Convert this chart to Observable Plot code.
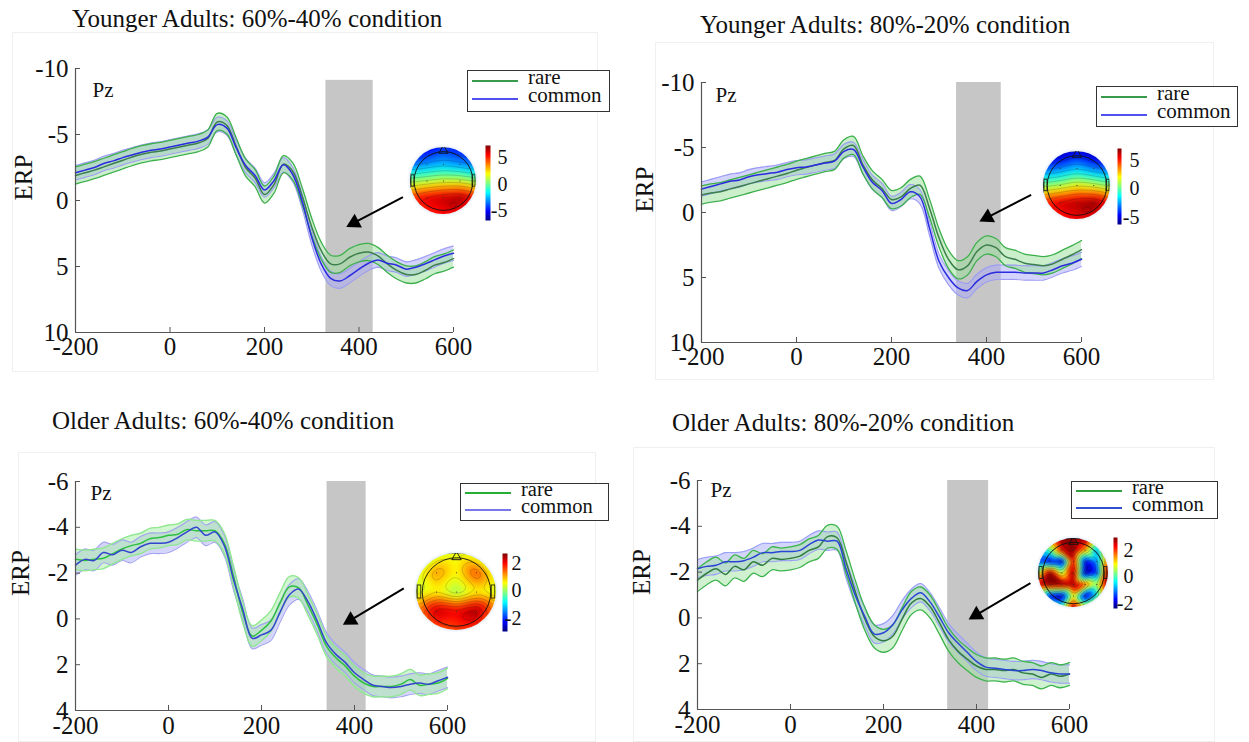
<!DOCTYPE html>
<html><head><meta charset="utf-8">
<script src="https://cdn.jsdelivr.net/npm/d3@7"></script>
<script src="https://cdn.jsdelivr.net/npm/@observablehq/plot@0.6"></script>
<style>
body{margin:0;background:#fff;}
#root{position:relative;width:1249px;height:742px;overflow:hidden;background:#fff;font-family:"Liberation Serif","Times New Roman",serif;color:#111;}
.title{position:absolute;font-size:25px;line-height:1;white-space:nowrap;}
.pframe{position:absolute;border:1px solid #f0f0f0;box-sizing:border-box;}
.legend{position:absolute;border:1.5px solid #333;background:#fff;box-sizing:border-box;}
.legend .ln{position:absolute;height:2px;}
.legend .tx{position:absolute;line-height:1;white-space:nowrap;}
.topo{position:absolute;border-radius:50%;overflow:hidden;box-shadow:0 0 3px 1px #dde8f6;}
</style></head>
<body><div id="root"></div>
<script>
// ---------------- data ----------------
const times = [-200,-180,-160,-140,-120,-100,-80,-60,-40,-20,0,20,40,60,80,100,120,140,160,180,200,220,240,260,280,300,320,340,360,380,400,420,440,460,480,500,520,540,560,580,600];
const xTicks = [-200, 0, 200, 400, 600];
const yTicksYoung = [-10, -5, 0, 5, 10];
const yTicksOld = [-6, -4, -2, 0, 2, 4];
const titles = ["Younger Adults: 60%-40% condition", "Younger Adults: 80%-20% condition", "Older Adults: 60%-40% condition", "Older Adults: 80%-20% condition"];
const seriesNames = ["rare", "common"];
const channelName = "Pz";
const yLabel = "ERP";

// Younger adults, 60%-40%
const ya6040Rare   = [-1.9,-2.1,-2.3,-2.55,-2.8,-3.05,-3.3,-3.5,-3.65,-3.75,-3.9,-4.05,-4.2,-4.35,-4.7,-5.95,-5.7,-4.1,-2.5,-1.7,-0.45,-1.2,-2.75,-2.2,-0.3,2.0,3.8,4.8,4.8,4.3,4.0,3.9,4.2,4.8,5.3,5.6,5.6,5.3,4.9,4.7,4.4];
const ya6040Common = [-2.1,-2.3,-2.5,-2.8,-3.0,-3.25,-3.45,-3.65,-3.8,-3.9,-4.05,-4.2,-4.35,-4.5,-4.8,-5.75,-5.5,-4.0,-2.65,-1.9,-0.8,-1.5,-2.7,-1.95,0.1,2.8,4.8,5.9,6.1,5.7,5.2,4.75,4.5,4.75,4.9,5.2,5.05,4.8,4.5,4.2,4.0];
const ya6040HalfCI = [0.65, 0.55];
const ya6040Window = [330, 430];
const ya6040Arrow = {x1: 493, y1: -0.25, x2: 373, y2: 2.0};

// Younger adults, 80%-20%
const ya8020Rare   = [-1.35,-1.5,-1.6,-1.8,-2.0,-2.2,-2.4,-2.6,-2.8,-3.0,-3.25,-3.45,-3.65,-3.85,-4.0,-4.9,-5.15,-3.65,-2.5,-1.85,-1.0,-1.2,-1.85,-2.1,-0.33,1.95,3.6,4.4,4.1,3.0,2.5,2.7,3.4,3.6,3.9,4.0,4.1,3.95,3.6,3.25,2.85];
const ya8020Common = [-1.8,-2.0,-2.2,-2.4,-2.5,-2.75,-2.9,-3.0,-3.1,-3.3,-3.45,-3.5,-3.65,-3.8,-3.95,-4.7,-4.85,-3.5,-2.3,-1.7,-0.7,-1.0,-1.6,-1.2,1.2,3.75,5.0,5.8,6.0,5.3,4.8,4.6,4.6,4.6,4.65,4.65,4.65,4.4,4.1,3.9,3.6];
const ya8020HalfCI = [0.7, 0.55];
const ya8020Window = [337, 431];
const ya8020Arrow = {x1: 494, y1: -1.35, x2: 385, y2: 0.7};

// Older adults, 60%-40%
const oa6040Rare   = [-2.6,-2.55,-2.6,-2.65,-2.85,-3.05,-3.2,-3.3,-3.5,-3.55,-3.65,-3.7,-3.9,-3.85,-3.85,-3.85,-3.3,-1.85,-0.25,0.75,0.5,0.1,-0.7,-1.4,-1.35,-0.6,0.25,1.2,1.7,2.05,2.5,2.8,2.95,2.95,2.95,2.85,2.65,2.9,2.85,2.8,2.6];
const oa6040Common = [-2.35,-2.6,-2.55,-2.9,-2.8,-3.0,-2.9,-3.15,-3.3,-3.3,-3.35,-3.55,-3.8,-4.0,-3.65,-3.8,-3.2,-1.7,-0.4,0.85,0.7,0.5,-0.3,-1.05,-1.3,-0.75,0.1,1.05,1.55,1.9,2.35,2.65,2.9,2.95,3.0,2.95,2.85,2.8,2.85,2.7,2.55];
const oa6040HalfCI = [0.45, 0.45];
const oa6040Window = [341, 425];
const oa6040Arrow = {x1: 506, y1: -1.33, x2: 375, y2: 0.26};

// Older adults, 80%-20%
const oa8020Rare   = [-1.65,-1.95,-2.15,-1.9,-2.25,-2.1,-2.45,-2.3,-2.6,-2.55,-2.6,-2.7,-2.95,-3.1,-3.55,-3.5,-2.4,-1.1,0.05,0.8,1.0,0.8,0.05,-0.65,-0.85,-0.5,0.2,0.95,1.45,1.8,2.1,2.25,2.25,2.3,2.25,2.4,2.45,2.6,2.45,2.55,2.45];
const oa8020Common = [-2.15,-2.25,-2.3,-2.45,-2.45,-2.5,-2.65,-2.85,-2.85,-2.9,-2.9,-2.95,-3.2,-3.4,-3.35,-3.35,-2.1,-0.95,-0.05,0.7,0.65,0.3,-0.35,-0.85,-1.1,-0.7,-0.05,0.65,1.1,1.5,1.9,2.15,2.2,2.25,2.3,2.3,2.25,2.3,2.4,2.45,2.45];
const oa8020HalfCI = [0.5, 0.4];
const oa8020Window = [338, 426];
const oa8020Arrow = {x1: 516, y1: -1.52, x2: 383, y2: 0.07};

// Topographic maps (rows front -> back, columns left -> right)
const grid5 = [-1, -0.5, 0, 0.5, 1];
const grid5Rows = [1, 0.5, 0, -0.5, -1];
const grid7 = [-1, -0.667, -0.333, 0, 0.333, 0.667, 1];
const grid7Rows = [1, 0.667, 0.333, 0, -0.333, -0.667, -1];
const topoYa6040 = [
  [-6.5, -5.5, -4.5, -5, -6],
  [-3.5, -3, -2.5, -3, -3.5],
  [0.5, 1, 1.5, 1.5, 0.5],
  [5, 6, 6.5, 7, 5.5],
  [4, 5, 5.5, 5.5, 4.5]];
const topoYa8020 = [
  [-6.5, -6, -5, -6, -6.5],
  [-3.5, -3, -2, -3, -3.5],
  [0.5, 1, 2, 1.5, 0.5],
  [5, 6, 6.5, 7, 5.5],
  [4, 5, 5.5, 5.5, 4]];
const topoOa6040 = [
  [0, 0.3, 0.4, 0.3, 0],
  [0.4, 1.2, 0.6, 1.6, 0.4],
  [0.3, 0.6, 0, 0.6, 0.3],
  [1.2, 2.4, 2.1, 2.6, 1.2],
  [0.9, 1.5, 1.6, 1.6, 0.9]];
const topoOa8020 = [
  [2, 2.5, 3, 3, 3, 1, 2],
  [-1, 0, 2.5, 3, 1.5, -1, 2.5],
  [-1.5, -2, -2.3, 2.5, -2, -1, 2],
  [0.5, 3, 0.5, 3, -2.3, -1.5, 3],
  [2.5, 3, 3, 3, 2, 0.5, 3],
  [1.5, -2, -2.3, 1, -2.2, -0.5, 2.5],
  [2.5, 1.5, 0, 3, 1, 2.5, 2.5]];
const cbarTicksYoung = [-5, 0, 5];
const cbarTicksOld = [-2, 0, 2];
const cbarDomainYa6040 = [-6.8, 7.35];
const cbarDomainYa8020 = [-6.3, 7.05];
const cbarDomainOa6040 = [-2.95, 2.7];
const cbarDomainOa8020 = [-2.35, 2.95];

// ---------------- styling / layout ----------------
const jet = ["#00007f","#0000ff","#0080ff","#00ffff","#80ff80","#ffff00","#ff8000","#ff0000","#800000"];
const jetInterp = d3.piecewise(d3.interpolateRgb, jet);
const serif = "Liberation Serif, Times New Roman, serif";
const axisColor = "#555";
const tickFont = 25;

const styleDark = {rareMean:"#3a7f4c", rareEdge:"#3db04c", rareFill:"#98e098", comMean:"#2b2be0", comEdge:"#9c9cf4", comFill:"#a8a8f8", legRare:"#3a9a4c", legCom:"#5050ee"};
const styleLight = {rareMean:"#2fc040", rareEdge:"#8ee88e", rareFill:"#a6eca6", comMean:"#3345cf", comEdge:"#a4a4f0", comFill:"#acacf4", legRare:"#25b035", legCom:"#7878e8"};
const styleOld2 = {rareMean:"#2f7d3f", rareEdge:"#3cb44c", rareFill:"#a0e4a0", comMean:"#2a45d5", comEdge:"#9aa0f5", comFill:"#a8acf8", legRare:"#2fa03f", legCom:"#2f4fd0"};

const panels = [
  {left:0, top:40, width:600, height:345, ml:75, mr:147, mt:28, mb:53, yMin:-10, yMax:10, yTicks:yTicksYoung,
   rare:ya6040Rare, common:ya6040Common, ci:ya6040HalfCI, win:ya6040Window, shadeTop:-9.1, arrow:ya6040Arrow,
   pz:[17,14], erpDx:-52, st:styleDark, title:[72,6], xPad:5,
   legend:{x:467,y:70,w:143,h:42,fs:21}, topo:{x:410,y:146.5,w:66,h:67,grid:topoYa6040,cols:grid5,rows:grid5Rows,blur:3},
   cbar:{x:485,y:145,w:5,h:75,domain:cbarDomainYa6040,ticks:cbarTicksYoung,dx:17}},
  {left:620, top:40, width:600, height:345, ml:81, mr:139, mt:42, mb:43, yMin:-10, yMax:10, yTicks:yTicksYoung,
   rare:ya8020Rare, common:ya8020Common, ci:ya8020HalfCI, win:ya8020Window, shadeTop:-10, arrow:ya8020Arrow,
   pz:[14,5], erpDx:-57, st:styleDark, title:[700,12], xPad:5,
   legend:{x:1096,y:86,w:142,h:41,fs:21}, topo:{x:1043,y:151,w:67,h:68,grid:topoYa8020,cols:grid5,rows:grid5Rows,blur:3},
   cbar:{x:1117,y:148,w:4,h:76,domain:cbarDomainYa8020,ticks:cbarTicksYoung,dx:18}},
  {left:0, top:440, width:600, height:302, ml:75, mr:153, mt:41, mb:32, yMin:-6, yMax:4, yTicks:yTicksOld,
   rare:oa6040Rare, common:oa6040Common, ci:oa6040HalfCI, win:oa6040Window, shadeTop:-6, arrow:oa6040Arrow,
   pz:[15,4], erpDx:-55, st:styleLight, title:[52,408], xPad:6,
   legend:{x:460,y:483,w:149,h:38,fs:20.5}, topo:{x:416,y:553,w:80,h:77,grid:topoOa6040,cols:grid5,rows:grid5Rows,blur:3},
   cbar:{x:502,y:553,w:5,h:78,domain:cbarDomainOa6040,ticks:cbarTicksOld,dx:14}},
  {left:620, top:440, width:600, height:302, ml:77, mr:151, mt:40, mb:33, yMin:-6, yMax:4, yTicks:yTicksOld,
   rare:oa8020Rare, common:oa8020Common, ci:oa8020HalfCI, win:oa8020Window, shadeTop:-6, arrow:oa8020Arrow,
   pz:[13,2], erpDx:-56, st:styleOld2, title:[672,410], xPad:6,
   legend:{x:1071,y:481,w:147,h:38,fs:20.5}, topo:{x:1038,y:538,w:70,h:69,grid:topoOa8020,cols:grid7,rows:grid7Rows,blur:1.5},
   cbar:{x:1113,y:537,w:4,h:71,domain:cbarDomainOa8020,ticks:cbarTicksOld,dx:16}}
];
const panelFrames = [[12,32,586,340],[655,42,559,338],[18,452,578,290],[633,447,582,295]];

const root = document.getElementById("root");
function place(el, x, y) { el.style.position = "absolute"; el.style.left = x + "px"; el.style.top = y + "px"; root.appendChild(el); return el; }

panelFrames.forEach(f => {
  const d = document.createElement("div"); d.className = "pframe";
  d.style.width = f[2] + "px"; d.style.height = f[3] + "px";
  place(d, f[0], f[1]);
});

function erpPanel(p, i) {
  const rows = times.map((t, k) => ({t, rare: p.rare[k], common: p.common[k]}));
  const iw = p.width - p.ml - p.mr, ih = p.height - p.mt - p.mb;
  const kx = iw / 800, ky = ih / (p.yMax - p.yMin);
  const tickLenX = 5 / kx, tickLenY = 5 / ky;
  const a = p.arrow;
  const dxp = (a.x2 - a.x1) * kx, dyp = (a.y2 - a.y1) * ky;
  const len = Math.hypot(dxp, dyp), ux = dxp / len, uy = dyp / len;
  const r = 7.5, s = Math.sqrt(Math.PI) * r * 0.6824;
  const head = [{x: a.x2 - ux * s / kx, y: a.y2 - uy * s / ky}];
  const shaft = [{x1: a.x1, y1: a.y1, x2: head[0].x, y2: head[0].y}];
  const rot = Math.atan2(ux, -uy) * 180 / Math.PI;
  const curve = "catmull-rom";
  const st = p.st;
  const [ciR, ciC] = p.ci;
  const chart = Plot.plot({
    width: p.width, height: p.height,
    marginLeft: p.ml, marginRight: p.mr, marginTop: p.mt, marginBottom: p.mb,
    x: {domain: [-200, 600]},
    y: {domain: [p.yMin, p.yMax], reverse: true},
    style: {fontFamily: serif, fontSize: tickFont + "px", color: "#111", background: "transparent", overflow: "visible"},
    marks: [
      Plot.rect([p.win], {x1: d => d[0], x2: d => d[1], y1: p.shadeTop, y2: p.yMax, fill: "#c6c6c6"}),
      Plot.areaY(rows, {x: "t", y1: d => d.common - ciC, y2: d => d.common + ciC, fill: st.comFill, fillOpacity: 0.5, curve}),
      Plot.areaY(rows, {x: "t", y1: d => d.rare - ciR, y2: d => d.rare + ciR, fill: st.rareFill, fillOpacity: 0.5, curve}),
      Plot.lineY(rows, {x: "t", y: d => d.common - ciC, stroke: st.comEdge, strokeWidth: 1.1, curve}),
      Plot.lineY(rows, {x: "t", y: d => d.common + ciC, stroke: st.comEdge, strokeWidth: 1.1, curve}),
      Plot.lineY(rows, {x: "t", y: d => d.rare - ciR, stroke: st.rareEdge, strokeWidth: 1.3, curve}),
      Plot.lineY(rows, {x: "t", y: d => d.rare + ciR, stroke: st.rareEdge, strokeWidth: 1.3, curve}),
      Plot.lineY(rows, {x: "t", y: "rare", stroke: st.rareMean, strokeWidth: 1.5, curve}),
      Plot.lineY(rows, {x: "t", y: "common", stroke: st.comMean, strokeWidth: 1.5, curve}),
      Plot.ruleX([-200], {stroke: axisColor, strokeWidth: 1.2}),
      Plot.ruleY([p.yMax], {stroke: axisColor, strokeWidth: 1.2}),
      Plot.ruleY(p.yTicks, {y: d => d, x1: -200, x2: -200 + tickLenX, stroke: axisColor}),
      Plot.ruleX(xTicks, {x: d => d, y1: p.yMax, y2: p.yMax - tickLenY, stroke: axisColor}),
      Plot.axisX({ticks: xTicks, tickSize: 0, tickPadding: p.xPad, tickFormat: d => String(d), label: null, fontSize: tickFont}),
      Plot.axisY({ticks: p.yTicks, tickSize: 0, tickPadding: 7, tickFormat: d => String(d), label: null, fontSize: tickFont}),
      Plot.text([yLabel], {frameAnchor: "left", rotate: -90, dx: p.erpDx, fontSize: 25}),
      Plot.text([channelName], {frameAnchor: "top-left", dx: p.pz[0], dy: p.pz[1], fontSize: 21}),
      Plot.link(shaft, {x1: "x1", y1: "y1", x2: "x2", y2: "y2", stroke: "#000", strokeWidth: 2}),
      Plot.dot(head, {x: "x", y: "y", symbol: "triangle2", r, rotate: rot, fill: "#000", stroke: "none"})
    ]
  });
  place(chart, p.left, p.top);

  const t = document.createElement("div"); t.className = "title"; t.textContent = titles[i];
  place(t, p.title[0], p.title[1]);
}

function legendBox(p) {
  const L = p.legend, st = p.st;
  const box = document.createElement("div"); box.className = "legend";
  box.style.width = L.w + "px"; box.style.height = L.h + "px";
  const rowY = [L.h * 0.245, L.h * 0.685];
  seriesNames.forEach((name, k) => {
    const ln = document.createElement("div"); ln.className = "ln";
    ln.style.left = "4px"; ln.style.width = "46px"; ln.style.top = (rowY[k] - 1.5) + "px";
    ln.style.background = k === 0 ? st.legRare : st.legCom;
    box.appendChild(ln);
    const tx = document.createElement("div"); tx.className = "tx";
    tx.style.fontSize = L.fs + "px"; tx.style.left = "60px";
    tx.style.top = (rowY[k] - 0.61 * L.fs - 1.5) + "px";
    tx.textContent = name;
    box.appendChild(tx);
  });
  place(box, L.x, L.y);
}

function topomap(p) {
  const T = p.topo;
  const pts = [];
  T.grid.forEach((row, i) => row.forEach((v, j) => pts.push({x: T.cols[j], y: T.rows[i], v})));
  const color = {type: "linear", domain: p.cbar.domain, interpolate: jetInterp, clamp: true};
  const headR = 0.89 * Math.min(T.w, T.h) / 2;
  const ears = [{x1: -0.97, x2: -0.88, y1: -0.17, y2: 0.17}, {x1: 0.88, x2: 0.97, y1: -0.17, y2: 0.17}];
  const chart = Plot.plot({
    width: T.w, height: T.h, margin: 0,
    x: {domain: [-1, 1], axis: null}, y: {domain: [-1, 1], axis: null},
    color,
    style: {background: "transparent"},
    marks: [
      Plot.raster(pts, {x: "x", y: "y", fill: "v", interpolate: "barycentric", blur: T.blur, x1: -1, x2: 1, y1: -1, y2: 1, pixelSize: 1}),
      Plot.contour(pts, {x: "x", y: "y", value: "v", interpolate: "barycentric", blur: T.blur, thresholds: 10, x1: -1, x2: 1, y1: -1, y2: 1, fill: "none", stroke: "#000", strokeOpacity: 0.28, strokeWidth: 0.6}),
      Plot.dot(pts.filter(d => d.x * d.x + d.y * d.y < 0.7), {x: "x", y: "y", r: 0.6, fill: "#333", stroke: "none"}),
      Plot.dot([{x: 0, y: 0}], {x: "x", y: "y", r: headR, fill: "none", stroke: "#111", strokeWidth: 0.9}),
      Plot.dot([{x: 0, y: 0.91}], {x: "x", y: "y", symbol: "triangle", r: 3.5, fill: "none", stroke: "#111", strokeWidth: 0.9}),
      Plot.rect(ears, {x1: "x1", x2: "x2", y1: "y1", y2: "y2", fill: "none", stroke: "#111", strokeWidth: 0.8})
    ]
  });
  const wrap = document.createElement("div"); wrap.className = "topo";
  wrap.style.width = T.w + "px"; wrap.style.height = T.h + "px";
  wrap.appendChild(chart);
  place(wrap, T.x, T.y);

  const C = p.cbar;
  const cb = Plot.plot({
    width: C.w + 32, height: C.h, marginLeft: 0, marginRight: 32, marginTop: 0, marginBottom: 0,
    x: {domain: [0, 1], axis: null}, y: {domain: C.domain, axis: null},
    color,
    style: {fontFamily: serif, fontSize: "20px", color: "#111", background: "transparent", overflow: "visible"},
    marks: [
      Plot.raster({fill: (x, y) => y, x1: 0, x2: 1, y1: C.domain[0], y2: C.domain[1], pixelSize: 1}),
      Plot.text(C.ticks, {x: 1, y: d => d, text: d => String(d), textAnchor: "end", dx: C.dx, fontSize: 20})
    ]
  });
  place(cb, C.x, C.y);
}

panels.forEach((p, i) => { erpPanel(p, i); });
panels.forEach(p => { legendBox(p); topomap(p); });
</script>
</body></html>
